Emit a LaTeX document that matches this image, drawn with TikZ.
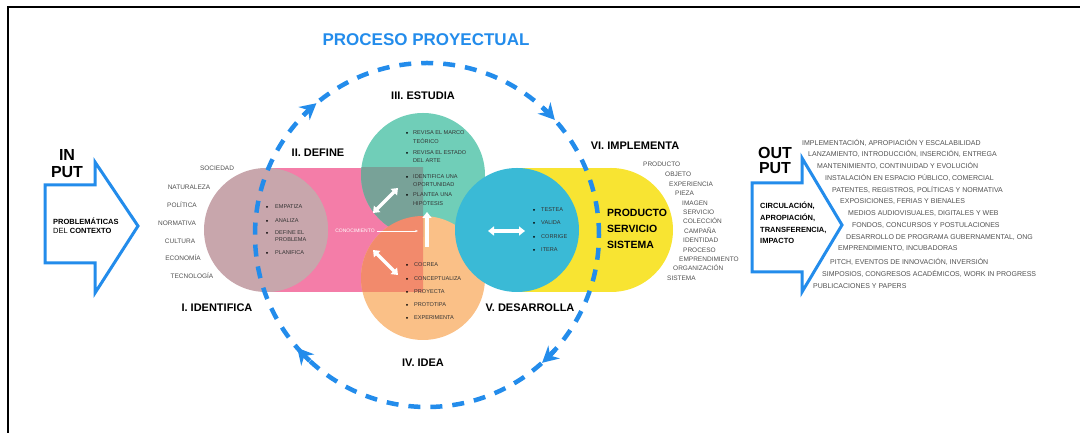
\documentclass[tikz,border=0pt]{standalone}
\usepackage{fontspec}
\setmainfont{Liberation Sans}
\usetikzlibrary{arrows.meta, positioning, calc}
\definecolor{loopblue}{RGB}{35, 140, 235}
\definecolor{idmauve}{RGB}{200, 166, 172}
\definecolor{defpink}{RGB}{244, 125, 168}
\definecolor{studteal}{RGB}{112, 206, 184}
\definecolor{studdark}{RGB}{120, 162, 152}
\definecolor{ideaorange}{RGB}{250, 192, 135}
\definecolor{ideadark}{RGB}{242, 138, 108}
\definecolor{devcyan}{RGB}{58, 186, 214}
\definecolor{impyellow}{RGB}{248, 228, 50}
\definecolor{listgrey}{RGB}{80, 80, 80}

\begin{document}
\begin{tikzpicture}[x=1pt, y=1pt,
  stage/.style={font=\fontsize{11}{11}\selectfont\bfseries, inner sep=0},
  big/.style={font=\fontsize{16}{16}\selectfont\bfseries, inner sep=0},
  tag/.style={font=\fontsize{7.5}{9}\selectfont, inner sep=0, anchor=west},
  small/.style={font=\fontsize{5.6}{5.6}\selectfont, inner sep=0, anchor=west, text=black!80},
  grey/.style={font=\fontsize{6.5}{6.5}\selectfont, inner sep=0, anchor=west, text=listgrey},
  dot/.style={circle, fill=black, inner sep=0, minimum size=2pt},
  blob/.style={circle, inner sep=0, minimum size=124pt},
  flow/.style={white, line width=3.5pt, {Triangle[length=6pt,width=9pt]}-{Triangle[length=6pt,width=9pt]}},
  flowup/.style={white, line width=3.5pt, -{Triangle[length=6pt,width=9pt]}},
  bigarrow/.style={draw=loopblue, line width=3pt, line join=miter, fill=white}
]
\useasboundingbox (0,0) rectangle (1080,433);

% frame
\draw[line width=1.5pt] (8,0) -- (8,426) -- (1080,426);

% title
\node[big, text=loopblue, font=\fontsize{17}{17}\selectfont\bfseries] (title) at (426,393) {PROCESO PROYECTUAL};

% pink band and mauve circle (define / identifica)
\fill[defpink] (266,141) rectangle (423,265);
\node[blob, fill=idmauve] (ident) at (266,203) {};

% green and orange circles, darker where they lie on the band
\node[blob, fill=studteal] (study) at (423,258) {};
\node[blob, fill=ideaorange] (idea) at (423,155) {};
\begin{scope}
  \clip (266,141) rectangle (423,265);
  \fill[studdark] (study.center) circle (62);
  \fill[ideadark] (idea.center) circle (62);
  \fill[idmauve] (ident.center) circle (62);
\end{scope}

% yellow stadium and cyan circle (implementa / desarrolla)
\fill[impyellow] (517,141) rectangle (611,265);
\fill[impyellow] (611,203) circle (62);
\node[blob, fill=devcyan] (dev) at (517,203) {};

% white arrows inside the circles
\coordinate (a1) at (373,220);
\coordinate (a2) at (398,245);
\coordinate (b1) at (373,183);
\coordinate (b2) at (398,158);
\coordinate (c1) at (427,186);
\coordinate (c2) at (427,221);
\coordinate (d1) at (488,202);
\coordinate (d2) at (525,202);
\draw[flow] (a1) -- (a2);
\draw[flow] (b1) -- (b2);
\draw[flowup] (c1) -- (c2);
\draw[flow] (d1) -- (d2);
\node[font=\fontsize{5}{5}\selectfont, text=white, inner sep=0] (know) at (355,202) {CONOCIMIENTO};
\coordinate (kend) at (418,202);
\draw[white, line width=0.8pt, -{Stealth[length=3pt]}] (know.east) ++(2,0) -- (kend);

% dashed loop
\coordinate (loopc) at (427,198);
\draw[loopblue, line width=4.5pt, dash pattern=on 12pt off 10pt] (loopc) circle (172);
\foreach \ang in {130, 42, -48, 221}
  \draw[loopblue, line width=4.5pt, -{Stealth[length=16pt, width=17pt]}]
    ($(loopc)+(\ang+6:172)$) arc[start angle=\ang+6, end angle=\ang, radius=172];

% stage labels
\node[stage] (l1) at (217,125) {I. IDENTIFICA};
\node[stage] (l2) at (318,280) {II. DEFINE};
\node[stage] (l3) at (423,337) {III. ESTUDIA};
\node[stage] (l4) at (423,70) {IV. IDEA};
\node[stage] (l5) at (530,125) {V. DESARROLLA};
\node[stage] (l6) at (635,287) {VI. IMPLEMENTA};

% bullets, define
\foreach \yy in {226, 212, 200, 180}
  \node[dot] (pd\yy) at (267,\yy) {};
\foreach \yy/\txt in {226/EMPATIZA, 212/ANALIZA, 200/DEFINE EL, 193/PROBLEMA, 180/PLANIFICA}
  \node[small] (td\yy) at (275,\yy) {\txt};

% bullets, estudia
\foreach \yy in {300, 280, 256, 238}
  \node[dot] (ps\yy) at (407,\yy) {};
\foreach \yy/\txt in {300/REVISA EL MARCO, 292/TEÓRICO, 280/REVISA EL ESTADO, 272/DEL ARTE,
    256/IDENTIFICA UNA, 248/OPORTUNIDAD, 238/PLANTEA UNA, 230/HIPÓTESIS}
  \node[small] (ts\yy) at (413,\yy) {\txt};

% bullets, idea
\foreach \yy/\txt in {168/COCREA, 154/CONCEPTUALIZA, 141/PROYECTA, 128/PROTOTIPA, 115/EXPERIMENTA} {
  \node[dot] (pi\yy) at (407,\yy) {};
  \node[small] (ti\yy) at (414,\yy) {\txt};
}

% bullets, desarrolla
\foreach \yy/\txt in {223/TESTEA, 210/VALIDA, 196/CORRIGE, 183/ITERA} {
  \node[dot] (pv\yy) at (534,\yy) {};
  \node[small] (tv\yy) at (541,\yy) {\txt};
}

% product
\node[font=\fontsize{10.5}{16}\selectfont\bfseries, align=left, anchor=west, inner sep=0] (prod) at (607,204)
  {PRODUCTO\\SERVICIO\\SISTEMA};

% context list
\foreach \xx/\yy/\txt in {217/265/SOCIEDAD, 189/246/NATURALEZA, 182/228/POLÍTICA, 177/210/NORMATIVA,
    180/192/CULTURA, 183/175/ECONOMÍA, 192/157/TECNOLOGÍA}
  \node[grey, anchor=center] (ctx\yy) at (\xx,\yy) {\txt};

% product list
\foreach \xx/\yy/\txt in {643/269/PRODUCTO, 665/259/OBJETO, 669/249/EXPERIENCIA, 675/240/PIEZA,
    682/230/IMAGEN, 683/221/SERVICIO, 683/212/COLECCIÓN, 684/202/CAMPAÑA, 683/193/IDENTIDAD,
    683/183/PROCESO, 679/174/EMPRENDIMIENTO, 673/165/ORGANIZACIÓN, 667/155/SISTEMA}
  \node[grey] (prd\yy) at (\xx,\yy) {\txt};

% input arrow
\draw[bigarrow] (45,248) -- (95,248) -- (95,271) -- (138,207) -- (95,140) -- (95,170) -- (45,170) -- cycle;
\node[big] (in1) at (67,278) {IN};
\node[big] (in2) at (67,261) {PUT};
\node[tag, align=left] (intext) at (53,207) {\textbf{PROBLEMÁTICAS}\\DEL \textbf{CONTEXTO}};

% output arrow
\draw[bigarrow] (752,250) -- (802,250) -- (802,275) -- (842,208) -- (802,141) -- (802,161) -- (752,161) -- cycle;
\node[big] (out1) at (775,280) {OUT};
\node[big] (out2) at (775,265) {PUT};
\node[tag, align=left, font=\fontsize{7.5}{11.7}\selectfont\bfseries] (outtext) at (760,210)
  {CIRCULACIÓN,\\APROPIACIÓN,\\TRANSFERENCIA,\\IMPACTO};

% output list
\foreach \xx/\yy/\txt in {
    802/290/{IMPLEMENTACIÓN, APROPIACIÓN Y ESCALABILIDAD},
    808/279/{LANZAMIENTO, INTRODUCCIÓN, INSERCIÓN, ENTREGA},
    817/267/{MANTENIMIENTO, CONTINUIDAD Y EVOLUCIÓN},
    825/255/{INSTALACIÓN EN ESPACIO PÚBLICO, COMERCIAL},
    832/243/{PATENTES, REGISTROS, POLÍTICAS Y NORMATIVA},
    840/231/{EXPOSICIONES, FERIAS Y BIENALES},
    848/219/{MEDIOS AUDIOVISUALES, DIGITALES Y WEB},
    852/207/{FONDOS, CONCURSOS Y POSTULACIONES},
    846/195/{DESARROLLO DE PROGRAMA GUBERNAMENTAL, ONG},
    838/184/{EMPRENDIMIENTO, INCUBADORAS},
    830/171/{PITCH, EVENTOS DE INNOVACIÓN, INVERSIÓN},
    822/159/{SIMPOSIOS, CONGRESOS ACADÉMICOS, WORK IN PROGRESS},
    813/147/{PUBLICACIONES Y PAPERS}}
  \node[grey, font=\fontsize{7}{7}\selectfont] (res\yy) at (\xx,\yy) {\txt};
\end{tikzpicture}
\end{document}
